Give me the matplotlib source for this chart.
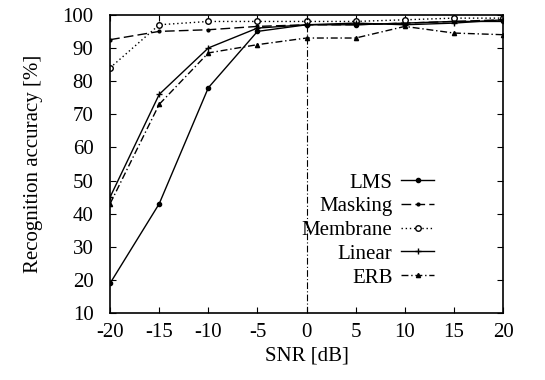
import matplotlib
matplotlib.use("Agg")
import matplotlib.pyplot as plt

# --- dados ---
snr = [-20, -15, -10, -5, 0, 5, 10, 15, 20]
lms = [19, 43, 78, 95, 97, 97, 97.5, 98, 98]
masking = [92.5, 95, 95.5, 96.5, 97, 97, 97.5, 98, 98.5]
membrane = [84, 97, 98, 98, 98, 98, 98.5, 99, 99]
linear = [45, 76, 90, 96, 97, 97.5, 97, 97.5, 98.5]
erb = [43, 73, 88.5, 91, 93, 93, 96.5, 94.5, 94]

plt.rcParams["font.family"] = ["Liberation Serif", "DejaVu Serif"]
plt.rcParams["font.size"] = 15
plt.rcParams["axes.unicode_minus"] = False

fig = plt.figure(figsize=(5.45, 3.8), dpi=100)
ax = fig.add_axes([0.202, 0.176, 0.721, 0.785])

lw = 1.0
ax.plot(snr, lms, color="black", lw=lw, ls="-", marker="o", ms=3, label="LMS")
ax.plot(snr, masking, color="black", lw=lw, ls=(0, (7, 3)), marker="o", ms=2, label="Masking")
ax.plot(snr, membrane, color="black", lw=lw, ls=(0, (1, 2)), marker="o", ms=4,
        mfc="white", label="Membrane")
ax.plot(snr, linear, color="black", lw=lw, ls="-", marker="+", ms=5, label="Linear")
ax.plot(snr, erb, color="black", lw=lw, ls=(0, (5, 2, 1, 2)), marker="^", ms=3, label="ERB")

# linha vertical em 0 dB
ax.axvline(0, color="black", lw=0.8, ls=(0, (6, 2, 1, 2)))

ax.set_xlim(-20, 20)
ax.set_ylim(10, 100)
ax.set_xticks(range(-20, 21, 5))
ax.set_yticks(range(10, 101, 10))
ax.tick_params(direction="in", top=True, right=True, length=4, width=0.8)
ax.tick_params(axis="x", pad=7)
ax.tick_params(axis="y", pad=12)
for s in ax.spines.values():
    s.set_linewidth(1.2)

ax.set_xlabel("SNR [dB]", labelpad=3)
ax.set_ylabel("Recognition accuracy [%]", labelpad=14)

ax.legend(loc="upper right", bbox_to_anchor=(0.825, 0.47), markerfirst=False,
          frameon=False, handlelength=1.6, handletextpad=0.4, labelspacing=0.2,
          borderpad=0, borderaxespad=0)

fig.savefig("out.png", dpi=100)
